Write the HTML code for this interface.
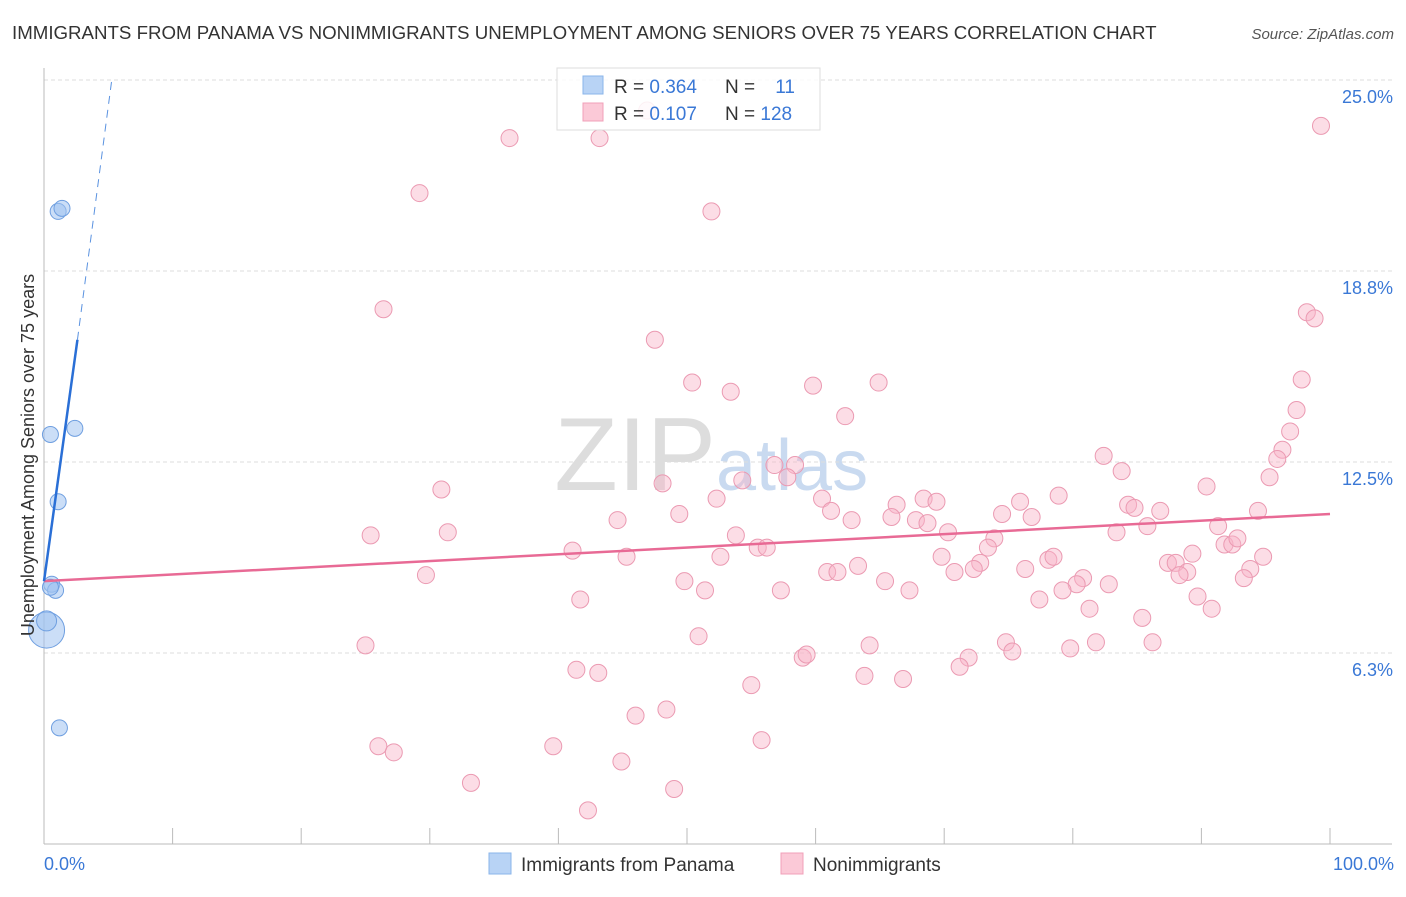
<!DOCTYPE html>
<html><head><meta charset="utf-8"><style>
body{margin:0;background:#fff;font-family:"Liberation Sans",sans-serif;}
svg text{font-family:"Liberation Sans",sans-serif;}
</style></head><body>
<svg id="c" width="1406" height="892" viewBox="0 0 1406 892" xmlns="http://www.w3.org/2000/svg">
<text x="12" y="39" font-size="18.7" fill="#333">IMMIGRANTS FROM PANAMA VS NONIMMIGRANTS UNEMPLOYMENT AMONG SENIORS OVER 75 YEARS CORRELATION CHART</text>
<text x="1394" y="39" font-size="15" fill="#555" font-style="italic" text-anchor="end">Source: ZipAtlas.com</text>
<text x="716" y="490" font-size="104" fill="#ddd" text-anchor="end" font-family="Liberation Serif">ZIP</text>
<text x="716" y="490" font-size="72" fill="#c9daf0">atlas</text>
<g id="grid"></g><g id="axes"></g><g id="pts"></g><g id="lines"></g>
<text transform="translate(34,455) rotate(-90)" font-size="18" fill="#333" text-anchor="middle">Unemployment Among Seniors over 75 years</text>
<text x="44" y="870" font-size="18" fill="#3a78d6">0.0%</text>
<text x="1394" y="870" font-size="18" fill="#3a78d6" text-anchor="end">100.0%</text>
<g>
<rect x="557" y="68" width="263" height="62" fill="#fff" fill-opacity="0.85" stroke="#ddd"/>
<rect x="583" y="76" width="20" height="18" fill="#b8d3f5" stroke="#8ab4ea"/>
<rect x="583" y="103" width="20" height="18" fill="#fbc9d7" stroke="#f0a0b8"/>
<text x="614" y="93" font-size="19" fill="#333">R = <tspan fill="#3a78d6">0.364</tspan></text>
<text x="725" y="93" font-size="19" fill="#333">N = </text><text x="795" y="93" font-size="19" fill="#3a78d6" text-anchor="end">11</text>
<text x="614" y="120" font-size="19" fill="#333">R = <tspan fill="#3a78d6"> 0.107</tspan></text>
<text x="725" y="120" font-size="19" fill="#333">N = <tspan fill="#3a78d6">128</tspan></text>
</g>
<g>
<rect x="489" y="853" width="22" height="21" fill="#b8d3f5" stroke="#8ab4ea"/>
<text x="521" y="871" font-size="19" fill="#333">Immigrants from Panama</text>
<rect x="781" y="853" width="22" height="21" fill="#fbc9d7" stroke="#f0a0b8"/>
<text x="813" y="871" font-size="19" fill="#333">Nonimmigrants</text>
</g>
</svg>
<script>
const yTicks=[25,18.75,12.5,6.25];
const yTickLabels=["25.0%","18.8%","12.5%","6.3%"];
const blueX=[0.2,1.1,1.4,0.5,2.4,1.1,0.6,0.9,0.5,0.2,1.2];
const blueY=[7.0,20.7,20.8,13.4,13.6,11.2,8.5,8.3,8.4,7.3,3.8];
const blueR=[18,8,8,8,8,8,8,8,8,10,8];
const pinkX=[36.2,43.2,29.2,51.9,99.3,26.4,47.5,98.2,98.8,50.4,53.4,59.8,64.9,97.8,62.3,97.4,96.9,96.3,95.9,95.3,82.4,83.8,56.8,58.4,57.8,54.3,48.1,30.9,52.3,60.5,66.3,68.4,69.4,75.9,78.9,84.3,84.8,90.4,94.4,86.8,49.4,44.6,61.2,62.8,65.9,67.8,68.7,74.5,76.8,85.8,83.4,91.3,31.4,25.4,53.8,70.3,73.9,73.4,91.8,92.4,92.8,89.3,41.1,45.3,52.6,55.5,56.2,69.8,78.1,78.5,94.8,87.4,88.0,72.8,72.3,76.3,63.3,60.9,61.7,70.8,88.9,88.3,93.8,93.3,29.7,49.8,65.4,80.8,80.3,82.8,79.2,51.4,57.3,67.3,77.4,89.7,41.7,81.3,90.8,85.4,50.9,25.0,64.2,74.8,75.3,79.8,81.8,86.2,59.0,59.3,71.9,71.2,41.4,43.1,63.8,66.8,55.0,46.0,48.4,55.8,26.0,27.2,39.6,44.9,33.2,49.0,42.3,46.9];
const pinkY=[23.1,23.1,21.3,20.7,23.5,17.5,16.5,17.4,17.2,15.1,14.8,15.0,15.1,15.2,14.0,14.2,13.5,12.9,12.6,12.0,12.7,12.2,12.4,12.4,12.0,11.9,11.8,11.6,11.3,11.3,11.1,11.3,11.2,11.2,11.4,11.1,11.0,11.7,10.9,10.9,10.8,10.6,10.9,10.6,10.7,10.6,10.5,10.8,10.7,10.4,10.2,10.4,10.2,10.1,10.1,10.2,10.0,9.7,9.8,9.8,10.0,9.5,9.6,9.4,9.4,9.7,9.7,9.4,9.3,9.4,9.4,9.2,9.2,9.2,9.0,9.0,9.1,8.9,8.9,8.9,8.9,8.8,9.0,8.7,8.8,8.6,8.6,8.7,8.5,8.5,8.3,8.3,8.3,8.3,8.0,8.1,8.0,7.7,7.7,7.4,6.8,6.5,6.5,6.6,6.3,6.4,6.6,6.6,6.1,6.2,6.1,5.8,5.7,5.6,5.5,5.4,5.2,4.2,4.4,3.4,3.2,3.0,3.2,2.7,2.0,1.8,1.1,24.0];
const blueTrend=[0,8.6,2.6,16.5];
const blueDash=[2.6,16.5,5.3,25.1];
const pinkTrend=[0,8.6,100,10.8];
const NS="http://www.w3.org/2000/svg";
const X0=44,X1=1330,YB=844,YT=80;
const sx=v=>X0+(X1-X0)*v/100;
const sy=v=>YB-(YB-YT)*v/25;
function mk(t,a,p){const e=document.createElementNS(NS,t);for(const k in a)e.setAttribute(k,a[k]);p.appendChild(e);return e;}
const grid=document.getElementById('grid'),axes=document.getElementById('axes'),pts=document.getElementById('pts'),lines=document.getElementById('lines');
yTicks.forEach((t,i)=>{
 const l=mk('line',{x1:X0,x2:1392,y1:sy(t),y2:sy(t),stroke:'#ddd','stroke-dasharray':'4,3'},grid);
 
 
 const tx=mk('text',{x:1393,y:sy(t)+23,'font-size':18,fill:'#3a78d6','text-anchor':'end'},grid);
 tx.textContent=yTickLabels[i];
 
 
});
const ya=mk('line',{x1:X0,x2:X0,y1:68,y2:YB,stroke:'#bbb'},axes);


const xa=mk('line',{x1:X0,x2:1392,y1:YB,y2:YB,stroke:'#bbb'},axes);


for(let i=0;i<=10;i++){
 const tk=mk('line',{x1:sx(i*10),x2:sx(i*10),y1:YB,y2:828,stroke:'#bbb'},axes);
 
 
}
pinkX.forEach((x,i)=>{
 const c=mk('circle',{cx:sx(x),cy:sy(pinkY[i]),r:8.5,fill:'rgba(248,180,200,0.45)',stroke:'#eb9ab2','stroke-width':1},pts);
 
 
});
blueX.forEach((x,i)=>{
 const c=mk('circle',{cx:sx(x),cy:sy(blueY[i]),r:blueR[i],fill:'rgba(160,195,240,0.55)',stroke:'#6f9fe0','stroke-width':1},pts);
 
 
});
const pl=mk('line',{x1:sx(pinkTrend[0]),y1:sy(pinkTrend[1]),x2:sx(pinkTrend[2]),y2:sy(pinkTrend[3]),stroke:'#e86a95','stroke-width':2.5},lines);


const bl=mk('line',{x1:sx(blueTrend[0]),y1:sy(blueTrend[1]),x2:sx(blueTrend[2]),y2:sy(blueTrend[3]),stroke:'#2a6fd6','stroke-width':2.5},lines);


const bd=mk('line',{x1:sx(blueDash[0]),y1:sy(blueDash[1]),x2:sx(blueDash[2]),y2:sy(blueDash[3]),stroke:'#5a92e0','stroke-width':1,'stroke-dasharray':'8,6'},lines);


</script>
</body></html>
